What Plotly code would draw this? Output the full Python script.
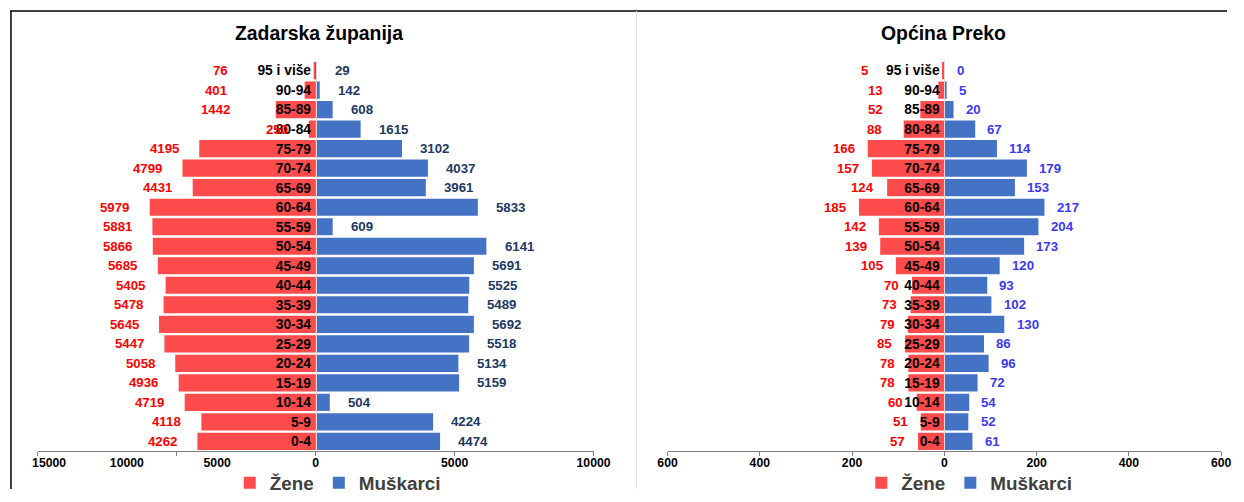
import plotly.graph_objects as go

W, H = 1244, 502

# ---------------- data ----------------
age_groups = ["0-4", "5-9", "10-14", "15-19", "20-24", "25-29", "30-34", "35-39",
              "40-44", "45-49", "50-54", "55-59", "60-64", "65-69", "70-74",
              "75-79", "80-84", "85-89", "90-94", "95 i više"]

zadar_zene = [4262, 4118, 4719, 4936, 5058, 5447, 5645, 5478, 5405, 5685,
              5866, 5881, 5979, 4431, 4799, 4195, 250, 1442, 401, 76]
zadar_muskarci = [4474, 4224, 504, 5159, 5134, 5518, 5692, 5489, 5525, 5691,
                  6141, 609, 5833, 3961, 4037, 3102, 1615, 608, 142, 29]

preko_zene = [57, 51, 60, 78, 78, 85, 79, 73, 70, 105,
              139, 142, 185, 124, 157, 166, 88, 52, 13, 5]
preko_muskarci = [61, 52, 54, 72, 96, 86, 130, 102, 93, 120,
                  173, 204, 217, 153, 179, 114, 67, 20, 5, 0]

titles = ["Zadarska županija", "Općina Preko"]
series_names = ["Žene", "Muškarci"]

left_tick_text = ["15000", "10000", "5000", "0", "5000", "10000"]
right_tick_vals = [-600, -400, -200, 0, 200, 400, 600]
right_tick_text = ["600", "400", "200", "0", "200", "400", "600"]

# ---------------- style / layout ----------------
RED = "#FF4B4B"
BLUE = "#4472C4"
FONT = "Liberation Sans"

# the captured page comes out slightly scaled (~0.98) and shifted; map the
# wanted picture position to the figure position that lands there
SX, OX, SY = 0.979, 10.0, 0.976


def px_x(p):
    return min(max((p - OX) / SX / W, 0), 1)


def px_y(p):
    return min(max(1 - (p / SY) / H, 0), 1)


def fs(s):
    return s / 0.98


def sh(v):
    return v / SX


y_dom = [px_y(452), px_y(61)]
dom_left = [px_x(38), px_x(594)]
dom_right = [px_x(668), px_x(1222)]

fig = go.Figure()

panels = [
    dict(x="x", y="y", zene=zadar_zene, musk=zadar_muskarci, legend="legend",
         male_col="#203864", gap_f=18, gap_m=16,
         moved={"95 i više": -3075, "90-94": -3115, "85-89": -3005}),
    dict(x="x2", y="y2", zene=preko_zene, musk=preko_muskarci, legend="legend2",
         male_col="#3A3AF0", gap_f=11, gap_m=10,
         moved={"95 i više": -161, "90-94": -128, "85-89": -128, "80-84": -130}),
]

annotations = []
for p in panels:
    fig.add_trace(go.Bar(
        y=age_groups, x=[-v for v in p["zene"]], orientation="h",
        name=series_names[0], marker=dict(color=RED, line=dict(width=0)),
        xaxis=p["x"], yaxis=p["y"], legend=p["legend"], hoverinfo="skip"))
    fig.add_trace(go.Bar(
        y=age_groups, x=p["musk"], orientation="h",
        name=series_names[1], marker=dict(color=BLUE, line=dict(width=0)),
        xaxis=p["x"], yaxis=p["y"], legend=p["legend"], hoverinfo="skip"))
    for cat, fv, mv in zip(age_groups, p["zene"], p["musk"]):
        if cat in p["moved"]:
            fx, fsh = p["moved"][cat], 0
        else:
            fx, fsh = -fv, -sh(p["gap_f"])
        annotations.append(dict(
            x=fx, y=cat, xref=p["x"], yref=p["y"], text=str(fv),
            xanchor="right", yanchor="middle", xshift=fsh, showarrow=False,
            font=dict(family=FONT, size=fs(13), color="#FF0000", weight="bold")))
        annotations.append(dict(
            x=mv, y=cat, xref=p["x"], yref=p["y"], text=str(mv),
            xanchor="left", yanchor="middle", xshift=sh(p["gap_m"]),
            showarrow=False,
            font=dict(family=FONT, size=fs(13), color=p["male_col"], weight="bold")))

# titles
for t, cx in zip(titles, [319, 944]):
    annotations.append(dict(
        x=px_x(cx), y=px_y(33), xref="paper", yref="paper", text=t,
        showarrow=False, xanchor="center", yanchor="middle",
        font=dict(family=FONT, size=fs(19), color="#000000", weight="bold")))

tickfont = dict(family=FONT, size=fs(12), color="#000000", weight="bold")
catfont = dict(family=FONT, size=fs(13.5), color="#000000", weight="bold")
AXC = "#7F7F7F"
legfont = dict(family=FONT, size=fs(18.5), color="#404040", weight="bold")

xaxis_common = dict(showgrid=False, zeroline=False, showline=True,
                    linecolor=AXC, linewidth=1, ticks="", tickfont=tickfont,
                    fixedrange=True)

fig.update_layout(
    width=W, height=H, autosize=False,
    margin=dict(l=0, r=0, t=0, b=0),
    paper_bgcolor="white", plot_bgcolor="white",
    barmode="relative", bargap=0.12,
    font=dict(family=FONT),
    xaxis=dict(domain=dom_left, range=[-10000, 10000], anchor="y",
               tickmode="array", tickvals=[-9600, -6800, -3550, 0, 5000, 10000],
               ticktext=left_tick_text,
               minor=dict(tickmode="array",
                          tickvals=[-10000, -5000, 0, 5000, 10000],
                          ticks="outside", ticklen=4, tickcolor=AXC),
               **xaxis_common),
    xaxis3=dict(overlaying="x", anchor="y", range=[-10000, 10000],
                tickmode="array", tickvals=[-10000, -5000, 0, 5000, 10000],
                ticks="inside", ticklen=4, tickcolor=AXC,
                showticklabels=False, showgrid=False, zeroline=False,
                showline=False, fixedrange=True),
    xaxis2=dict(domain=dom_right, range=[-600, 600], anchor="y2",
                tickmode="array", tickvals=right_tick_vals,
                ticktext=right_tick_text,
                minor=dict(tickmode="array", tickvals=right_tick_vals,
                           ticks="outside", ticklen=4, tickcolor=AXC),
                **xaxis_common),
    xaxis4=dict(overlaying="x2", anchor="y2", range=[-600, 600],
                tickmode="array", tickvals=right_tick_vals,
                ticks="inside", ticklen=4, tickcolor=AXC,
                showticklabels=False, showgrid=False, zeroline=False,
                showline=False, fixedrange=True),
    yaxis=dict(domain=y_dom, type="category", categoryorder="array",
               categoryarray=age_groups, anchor="free",
               position=(dom_left[0] + dom_left[1]) / 2,
               showline=True, linecolor="#D9D9D9", linewidth=1,
               ticks="", tickfont=catfont, showgrid=False, zeroline=False,
               ticklabelstandoff=2, fixedrange=True),
    yaxis2=dict(domain=y_dom, type="category", categoryorder="array",
                categoryarray=age_groups, anchor="free",
                position=(dom_right[0] + dom_right[1]) / 2,
                showline=True, linecolor="#D9D9D9", linewidth=1,
                ticks="", tickfont=catfont, showgrid=False, zeroline=False,
                ticklabelstandoff=2, fixedrange=True),
    legend=dict(orientation="h", x=px_x(338), y=px_y(484),
                xanchor="center", yanchor="middle", font=legfont,
                bgcolor="rgba(0,0,0,0)", itemwidth=30),
    legend2=dict(orientation="h", x=px_x(970), y=px_y(484),
                 xanchor="center", yanchor="middle", font=legfont,
                 bgcolor="rgba(0,0,0,0)", itemwidth=30),
    annotations=annotations,
    shapes=[
        dict(type="line", xref="paper", yref="paper", x0=0, x1=1,
             y0=px_y(11), y1=px_y(11), line=dict(color="#000000", width=1.5)),
        dict(type="line", xref="paper", yref="paper", x0=0.0008, x1=0.0008,
             y0=0, y1=px_y(11), line=dict(color="#000000", width=1.5)),
        dict(type="line", xref="paper", yref="paper", x0=px_x(637), x1=px_x(637),
             y0=0, y1=px_y(11), line=dict(color="#E0E0E0", width=1)),
    ],
)

fig.write_html(
    "out.html",
    config={"responsive": False, "displayModeBar": False},
    post_script=("document.documentElement.style.overflow='hidden';"
                 "document.body.style.margin='0';"
                 "document.body.style.overflow='hidden';"),
)
